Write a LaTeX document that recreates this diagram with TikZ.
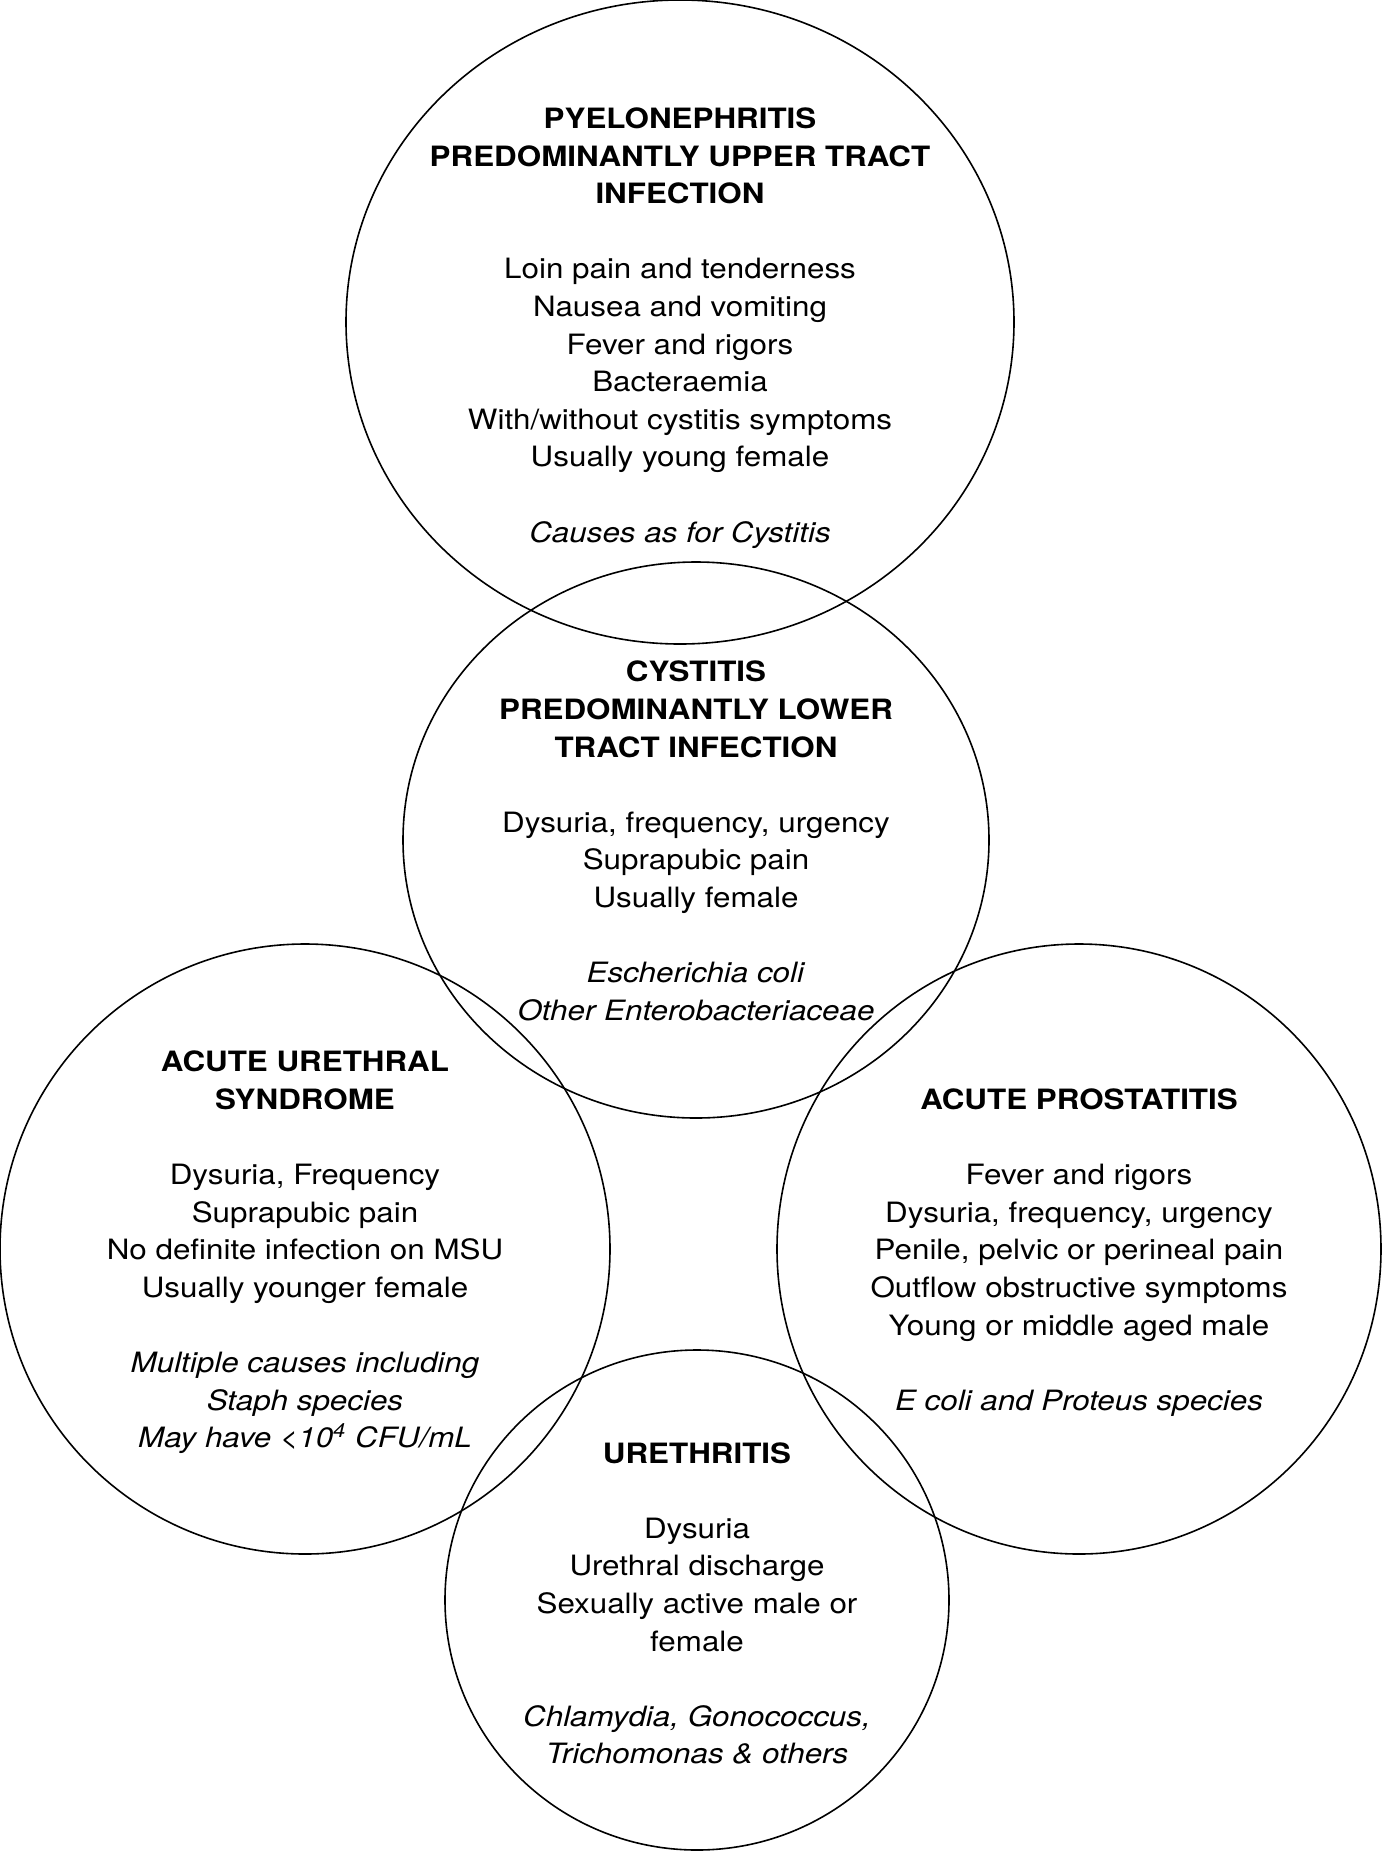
\documentclass[tikz,border=0pt]{standalone}
\usepackage{fontspec}
\setmainfont[FakeStretch=1.12]{TeX Gyre Heros}
\usetikzlibrary{shapes.geometric}
\begin{document}
\begin{tikzpicture}[x=0.5pt, y=-0.5pt,
  zone/.style={ellipse, draw, line width=0.8pt, inner sep=0pt},
  notes/.style={align=center, inner sep=0pt, yshift=-1.7pt, font=\fontsize{14}{18.8}\selectfont}]
  \useasboundingbox (0,0) rectangle (1384,1854);

  % Circles
  \node[zone, minimum width=334pt, minimum height=322pt] (pyelo) at (680,322) {};
  \node[zone, minimum width=293pt, minimum height=278pt] (cyst) at (696,840) {};
  \node[zone, minimum width=305pt, minimum height=305pt] (aus) at (305,1249) {};
  \node[zone, minimum width=302pt, minimum height=305pt] (prost) at (1079,1249) {};
  \node[zone, minimum width=252pt, minimum height=250pt] (ureth) at (697,1600) {};

  % Texts
  \node[notes, yshift=-1.3pt] (pyelotext) at (pyelo) {\textbf{PYELONEPHRITIS}\\ \textbf{PREDOMINANTLY UPPER TRACT}\\ \textbf{INFECTION}\\[18.8pt]
    Loin pain and tenderness\\ Nausea and vomiting\\ Fever and rigors\\ Bacteraemia\\ With/without cystitis symptoms\\ Usually young female\\[18.8pt]
    \textit{Causes as for Cystitis}};
  \node[notes, yshift=1.2pt] (cysttext) at (cyst) {\textbf{CYSTITIS}\\ \textbf{PREDOMINANTLY LOWER}\\ \textbf{TRACT INFECTION}\\[18.8pt]
    Dysuria, frequency, urgency\\ Suprapubic pain\\ Usually female\\[18.8pt]
    \textit{Escherichia coli}\\ \textit{Other Enterobacteriaceae}};
  \node[notes] (austext) at (aus) {\textbf{ACUTE URETHRAL}\\ \textbf{SYNDROME}\\[18.8pt]
    Dysuria, Frequency\\ Suprapubic pain\\ No definite infection on MSU\\ Usually younger female\\[18.8pt]
    \textit{Multiple causes including}\\ \textit{Staph species}\\ \textit{May have <10\textsuperscript{4} CFU/mL}};
  \node[notes] (prosttext) at (prost) {\textbf{ACUTE PROSTATITIS}\\[18.8pt]
    Fever and rigors\\ Dysuria, frequency, urgency\\ Penile, pelvic or perineal pain\\ Outflow obstructive symptoms\\ Young or middle aged male\\[18.8pt]
    \textit{E coli and Proteus species}};
  \node[notes] (urethtext) at (ureth) {\textbf{URETHRITIS}\\[18.8pt]
    Dysuria\\ Urethral discharge\\ Sexually active male or\\ female\\[18.8pt]
    \textit{Chlamydia, Gonococcus,}\\ \textit{Trichomonas \& others}};
\end{tikzpicture}
\end{document}
